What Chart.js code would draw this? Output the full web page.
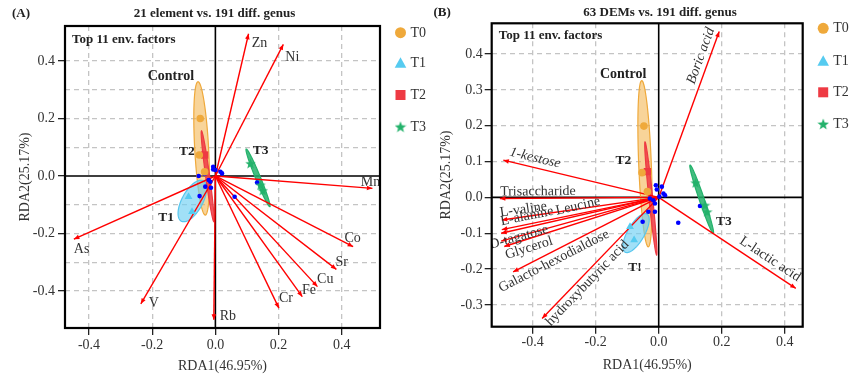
<!DOCTYPE html>
<html><head><meta charset="utf-8">
<script src="https://cdn.jsdelivr.net/npm/chart.js@4.4.1/dist/chart.umd.min.js"></script>
<style>
html,body{margin:0;padding:0;background:#fff;width:865px;height:379px;overflow:hidden}
#wa{position:absolute;left:0;top:0;width:432px;height:379px}
#wb{position:absolute;left:432px;top:0;width:433px;height:379px}
</style></head><body>
<div id="wa"><canvas id="ca"></canvas></div>
<div id="wb"><canvas id="cb"></canvas></div>
<script>
// ================= DATA =================
const groupNames = ['T0','T1','T2','T3'];
const axisTitleX = 'RDA1(46.95%)';
const axisTitleY = 'RDA2(25.17%)';

// Panel A: 21 element vs. 191 diff. genus
const titleA = '21 element vs. 191 diff. genus';
const elementNames = ['Zn','Ni','Mn','Co','Sr','Cu','Fe','Cr','Rb','V','As'];
const elementRDA1 = [0.105, 0.215, 0.497, 0.436, 0.383, 0.323, 0.275, 0.201, -0.005, -0.236, -0.448];
const elementRDA2 = [0.495, 0.458, -0.043, -0.246, -0.325, -0.385, -0.420, -0.460, -0.500, -0.445, -0.220];
const xTickLabelsA = ['-0.4','-0.2','0.0','0.2','0.4'];
const yTickLabelsA = ['-0.4','-0.2','0.0','0.2','0.4'];
const siteRDA1_A = [-0.053,-0.034,-0.007,-0.007,0.000,0.016,0.021,-0.021,-0.016,-0.032,-0.014,-0.050,0.132,0.061];
const siteRDA2_A = [0.000,0.007,0.032,0.023,0.021,0.015,0.009,-0.014,-0.020,-0.037,-0.041,-0.070,-0.023,-0.072];
const t0X_A = [-0.048,-0.051,-0.034], t0Y_A = [0.200,0.073,0.015];
const t1X_A = [-0.085,-0.074], t1Y_A = [-0.072,-0.124];
const t2X_A = [-0.034], t2Y_A = [0.073];
const t3X_A = [0.111,0.143,0.150], t3Y_A = [0.044,-0.031,-0.050];
// group ellipses: centre, major half-axis vector, minor half-axis vector (T0,T1,T2,T3)
const ellCX_A = [-0.0435,-0.073,-0.0245,0.135];
const ellCY_A = [0.096,-0.087,-0.001,-0.0065];
const ellAX_A = [-0.0115,0.035,-0.0195,-0.0375];
const ellAY_A = [0.232,0.070,0.158,0.1005];
const ellBX_A = [0.022,0.0286,0.0063,0.0073];
const ellBY_A = [0.001,-0.0174,0.0009,0.0033];
const groupTagsA = ['Control','T2','T3','T1'];
const groupTagX_A = [-0.141,-0.0905,0.143,-0.156];
const groupTagY_A = [0.348,0.0835,0.090,-0.146];

// Panel B: 63 DEMs vs. 191 diff. genus
const titleB = '63 DEMs vs. 191 diff. genus';
const demNames = ['Boric acid','1-kestose','Trisaccharide','L-valine','L-alanine','Leucine','D-tagatose','Glycerol','Galacto-hexodialdose','hydroxybutyric acid','L-lactic acid'];
const demRDA1 = [0.192,-0.493,-0.504,-0.498,-0.498,-0.500,-0.500,-0.490,-0.462,-0.370,0.435];
const demRDA2 = [0.463,0.104,-0.003,-0.063,-0.090,-0.100,-0.122,-0.137,-0.208,-0.338,-0.254];
const xTickLabelsB = ['-0.4','-0.2','0.0','0.2','0.4'];
const yTickLabelsB = ['-0.3','-0.2','-0.1','0.0','0.1','0.2','0.3','0.4'];
const siteRDA1_B = [-0.009,-0.006,0.010,0.015,0.020,0.002,-0.017,-0.028,-0.012,-0.033,-0.012,-0.051,0.062,0.131];
const siteRDA2_B = [0.034,0.022,0.030,0.011,0.006,0.002,-0.008,-0.003,-0.017,-0.040,-0.040,-0.068,-0.071,-0.024];
const t0X_B = [-0.047,-0.053,-0.036], t0Y_B = [0.199,0.069,0.016];
const t1X_B = [-0.078,-0.091], t1Y_B = [-0.119,-0.082];
const t2X_B = [-0.036], t2Y_B = [0.072];
const t3X_B = [0.117,0.147,0.154], t3Y_B = [0.041,-0.0215,-0.040];
const ellCX_B = [-0.0435,-0.072,-0.025,0.1365];
const ellCY_B = [0.094,-0.0997,-0.003,-0.0053];
const ellAX_B = [-0.0105,0.035,-0.0184,-0.037];
const ellAY_B = [0.232,0.053,0.158,0.0955];
const ellBX_B = [0.020,0.023,0.006,0.0073];
const ellBY_B = [0.001,-0.012,0.001,0.003];
const groupTagsB = ['Control','T2','T3','T!'];
const groupTagX_B = [-0.113,-0.112,0.207,-0.075];
const groupTagY_B = [0.344,0.104,-0.068,-0.196];

// ================= STYLE / LAYOUT =================
const FONT = "'Liberation Serif','Times New Roman','DejaVu Serif',serif";
Chart.defaults.font.family = FONT;
Chart.defaults.color = '#333';
const COL = {T0:'#EFA93B', T1:'#56CBF0', T2:'#EE3A43', T3:'#23B26B'};
const ELL_FILL = ['rgba(242,176,70,0.55)','rgba(110,208,242,0.65)','rgba(238,58,67,0.85)','rgba(35,178,107,0.85)'];
const ELL_STROKE = ['#EFA93B','#56C6EE','#EE3A43','#23B26B'];
// label offsets for panel A (pixels from arrow tip to label centre)
const labelDX_A = [10.9, 9.0, -2.0, -0.6, 5.3, 7.8, 6.6, 7.0, 14.0, 13.0, 7.7];
const labelDY_A = [9.2, 13.0, -6.5, -8.7, -7.3, -7.7, -6.7, -9.6, -3.0, -1.0, 9.7];
// label placement for panel B (fraction along arrow, perpendicular px offset)
const labelF_B = [0.835, 0.81, 0.76, 0.856, 0.829, 0.499, 0.889, 0.858, 0.748, 0.662, 0.771];
const labelOff_B = [8.9, 9.4, 6.6, 7.2, 8.0, 9.4, -1, -9, -9, -8.1, 10.1];
const labelItalic_B = [true, true, false, false, false, false, false, false, false, false, false];

function makeStar(color, size){
  const c = document.createElement('canvas'); c.width = size; c.height = size;
  const g = c.getContext('2d'); g.fillStyle = color; g.beginPath();
  const cx = size/2, cy = size/2 + 0.6, R = size/2, r = R*0.42;
  for (let i=0;i<10;i++){ const a=-Math.PI/2+i*Math.PI/5; const rr=i%2?r:R; g.lineTo(cx+rr*Math.cos(a), cy+rr*Math.sin(a)); }
  g.closePath(); g.fill(); return c;
}
const starPt = makeStar(COL.T3, 11);
const starLeg = makeStar(COL.T3, 12);

const fmt = v => (Math.abs(v) < 1e-9 ? 0 : v).toFixed(1);
const zip = (xs, ys) => xs.map((x,i)=>({x, y: ys[i]}));

function buildPanel(canvasId, P){
  const datasets = [];
  P.ax.forEach((x,i)=>{
    datasets.push({data:[{x:0,y:0},{x, y:P.ay[i]}], showLine:true, borderColor:'#ff0000', borderWidth:1.4, pointRadius:0, order:5});
  });
  datasets.push({data: zip(P.sx,P.sy), pointRadius:2.3, pointBackgroundColor:'#0000ff', pointBorderWidth:0, order:3});
  datasets.push({data: zip(P.g0x,P.g0y), pointStyle:'circle', pointRadius:3.8, pointBackgroundColor:COL.T0, pointBorderWidth:0, order:2});
  datasets.push({data: zip(P.g1x,P.g1y), pointStyle:'triangle', pointRadius:4.5, pointBackgroundColor:COL.T1, pointBorderWidth:0, order:2});
  datasets.push({data: zip(P.g2x,P.g2y), pointStyle:'rect', pointRadius:5.2, pointBackgroundColor:COL.T2, pointBorderWidth:0, order:2});
  datasets.push({data: zip(P.g3x,P.g3y), pointStyle:starPt, pointRadius:5, order:2});

  const plugin = {
    id:'panelDraw'+canvasId,
    beforeDatasetsDraw(chart){
      const ctx = chart.ctx, a = chart.chartArea, sx = chart.scales.x, sy = chart.scales.y;
      ctx.save();
      ctx.beginPath(); ctx.rect(a.left,a.top,a.right-a.left,a.bottom-a.top); ctx.clip();
      // zero lines
      ctx.strokeStyle = '#000'; ctx.lineWidth = 1.6;
      const x0 = sx.getPixelForValue(0), y0 = sy.getPixelForValue(0);
      ctx.beginPath(); ctx.moveTo(x0,a.top); ctx.lineTo(x0,a.bottom); ctx.moveTo(a.left,y0); ctx.lineTo(a.right,y0); ctx.stroke();
      // group tags
      ctx.fillStyle = '#222'; ctx.textAlign='center'; ctx.textBaseline='middle';
      P.tags.forEach((t,i)=>{
        ctx.font = (t==='Control' ? 'bold 14px ' : 'bold 13.5px ') + FONT;
        ctx.fillText(t, sx.getPixelForValue(P.tagX[i]), sy.getPixelForValue(P.tagY[i]));
      });
      // ellipses
      for (let g=0; g<4; g++){
        ctx.beginPath();
        for (let k=0;k<=90;k++){
          const t = k/90*2*Math.PI;
          const X = sx.getPixelForValue(P.ecx[g] + P.eax[g]*Math.cos(t) + P.ebx[g]*Math.sin(t));
          const Y = sy.getPixelForValue(P.ecy[g] + P.eay[g]*Math.cos(t) + P.eby[g]*Math.sin(t));
          k ? ctx.lineTo(X,Y) : ctx.moveTo(X,Y);
        }
        ctx.closePath(); ctx.fillStyle = ELL_FILL[g]; ctx.fill();
        ctx.lineWidth = 1.2; ctx.strokeStyle = ELL_STROKE[g]; ctx.stroke();
      }
      ctx.restore();
    },
    afterDatasetsDraw(chart){
      const ctx = chart.ctx, a = chart.chartArea, sx = chart.scales.x, sy = chart.scales.y;
      const ox = sx.getPixelForValue(0), oy = sy.getPixelForValue(0);
      ctx.save();
      ctx.beginPath(); ctx.rect(a.left,a.top,a.right-a.left,a.bottom-a.top); ctx.clip();
      P.ax.forEach((x,i)=>{
        const tx = sx.getPixelForValue(x), ty = sy.getPixelForValue(P.ay[i]);
        const vx = tx-ox, vy = ty-oy, L = Math.hypot(vx,vy), ux = vx/L, uy = vy/L;
        // arrow head
        ctx.fillStyle = '#ff0000'; ctx.beginPath();
        ctx.moveTo(tx,ty); ctx.lineTo(tx-5.5*ux-2.3*uy, ty-5.5*uy+2.3*ux); ctx.lineTo(tx-5.5*ux+2.3*uy, ty-5.5*uy-2.3*ux); ctx.closePath(); ctx.fill();
        // label
        ctx.fillStyle = '#333'; ctx.textAlign='center'; ctx.textBaseline='middle';
        if (P.mode==='A'){
          ctx.font = '14px ' + FONT;
          ctx.fillText(P.names[i], tx + P.ldx[i], ty + P.ldy[i]);
        } else {
          let dx = ux, dy = uy; if (vx < 0){ dx=-ux; dy=-uy; }
          const th = Math.atan2(dy,dx); const nx = dy, ny = -dx;
          const cx = ox + P.lf[i]*vx + P.loff[i]*nx, cy = oy + P.lf[i]*vy + P.loff[i]*ny;
          ctx.save(); ctx.translate(cx,cy); ctx.rotate(th);
          ctx.font = (P.lit[i] ? 'italic ' : '') + '14px ' + FONT;
          ctx.fillText(P.names[i], 0, 0); ctx.restore();
        }
      });
      ctx.restore();
    },
    afterDraw(chart){
      const ctx = chart.ctx, a = chart.chartArea;
      ctx.save();
      ctx.strokeStyle = '#000'; ctx.lineWidth = 2.2;
      ctx.strokeRect(a.left, a.top, a.right-a.left, a.bottom-a.top);
      // titles
      ctx.fillStyle = '#222'; ctx.textBaseline='middle';
      ctx.font = 'bold 13px ' + FONT;
      ctx.textAlign='center'; ctx.fillText(P.title, P.titleX, P.titleY);
      ctx.textAlign='left'; ctx.fillText(P.letter, P.letterX, P.titleY);
      ctx.fillText('Top 11 env. factors', a.left+7, a.top+P.topNoteDY);
      // legend
      const mx = a.right + 20.5;
      const ys = [a.top+P.legDY[0], a.top+P.legDY[1], a.top+P.legDY[2], a.top+P.legDY[3]];
      ctx.fillStyle = COL.T0; ctx.beginPath(); ctx.arc(mx, ys[0], 5.5, 0, 2*Math.PI); ctx.fill();
      ctx.fillStyle = COL.T1; ctx.beginPath(); ctx.moveTo(mx, ys[1]-5.8); ctx.lineTo(mx+5.8, ys[1]+4.8); ctx.lineTo(mx-5.8, ys[1]+4.8); ctx.closePath(); ctx.fill();
      ctx.fillStyle = COL.T2; ctx.fillRect(mx-5, ys[2]-5, 10, 10);
      ctx.drawImage(starLeg, mx-6, ys[3]-6);
      ctx.fillStyle = '#333'; ctx.font = '14px ' + FONT; ctx.textAlign='left';
      groupNames.forEach((g,i)=>ctx.fillText(g, mx+10, ys[i]+0.5));
      ctx.restore();
    }
  };

  const tickFn = list => v => { const s = fmt(v); return list.includes(s) ? s : ''; };
  const gridColor = ctx => (!ctx.tick || Math.abs(ctx.tick.value) < 1e-9 || !P.gridOk(ctx.tick.value)) ? 'rgba(0,0,0,0)' : '#c4c4c4';

  return new Chart(document.getElementById(canvasId), {
    type:'scatter',
    data:{datasets},
    plugins:[plugin],
    options:{
      responsive:true, maintainAspectRatio:false, animation:false, devicePixelRatio:1,
      layout:{padding:P.pad},
      plugins:{legend:{display:false}, tooltip:{enabled:false}, title:{display:false}},
      events:[],
      scales:{
        x:{type:'linear', min:P.xMin, max:P.xMax,
           ticks:{stepSize:0.2, includeBounds:false, autoSkip:false, maxRotation:0, padding:P.xTickPad, font:{size:14}, color:'#333', callback:tickFn(P.xLabels)},
           grid:{color:gridColor, lineWidth:1.3, tickLength:7, tickWidth:1.3,
                 tickColor:ctx => (ctx.tick && P.xLabels.includes(fmt(ctx.tick.value))) ? '#222' : 'rgba(0,0,0,0)'},
           border:{display:false, dash:[5,4]},
           title:{display:true, text:axisTitleX, font:{size:14}, color:'#333', padding:{top:0,bottom:P.xTitlePad}},
           afterFit:s=>{s.height = P.xH;}},
        y:{type:'linear', min:P.yMin, max:P.yMax,
           ticks:{stepSize:0.1, includeBounds:false, autoSkip:false, padding:P.yTickPad, font:{size:14}, color:'#333', callback:tickFn(P.yLabels)},
           grid:{color:gridColor, lineWidth:1.3, tickLength:7, tickWidth:1.3,
                 tickColor:ctx => (ctx.tick && P.yLabels.includes(fmt(ctx.tick.value))) ? '#222' : 'rgba(0,0,0,0)'},
           border:{display:false, dash:[5,4]},
           title:{display:true, text:axisTitleY, font:{size:14}, color:'#333', padding:{top:P.yTitlePad,bottom:0}},
           afterFit:s=>{s.width = P.yW;}}
      }
    }
  });
}

buildPanel('ca', {
  mode:'A', names:elementNames, ax:elementRDA1, ay:elementRDA2,
  sx:siteRDA1_A, sy:siteRDA2_A,
  g0x:t0X_A, g0y:t0Y_A, g1x:t1X_A, g1y:t1Y_A, g2x:t2X_A, g2y:t2Y_A, g3x:t3X_A, g3y:t3Y_A,
  ecx:ellCX_A, ecy:ellCY_A, eax:ellAX_A, eay:ellAY_A, ebx:ellBX_A, eby:ellBY_A,
  tags:groupTagsA, tagX:groupTagX_A, tagY:groupTagY_A,
  ldx:labelDX_A, ldy:labelDY_A,
  xMin:-0.476, xMax:0.521, yMin:-0.529, yMax:0.522,
  xLabels:xTickLabelsA, yLabels:yTickLabelsA,
  gridOk:v=>Math.abs(v)<0.45,
  pad:{left:0, top:26, right:52, bottom:0}, xH:51, yW:65,
  xTickPad:2, yTickPad:3, xTitlePad:4.6, yTitlePad:17,
  title:titleA, titleX:214.5, titleY:14, letter:'(A)', letterX:12, topNoteDY:13.5,
  legDY:[6.7, 37, 69, 100.7]
});

buildPanel('cb', {
  mode:'B', names:demNames, ax:demRDA1, ay:demRDA2, lf:labelF_B, loff:labelOff_B, lit:labelItalic_B,
  sx:siteRDA1_B, sy:siteRDA2_B,
  g0x:t0X_B, g0y:t0Y_B, g1x:t1X_B, g1y:t1Y_B, g2x:t2X_B, g2y:t2Y_B, g3x:t3X_B, g3y:t3Y_B,
  ecx:ellCX_B, ecy:ellCY_B, eax:ellAX_B, eay:ellAY_B, ebx:ellBX_B, eby:ellBY_B,
  tags:groupTagsB, tagX:groupTagX_B, tagY:groupTagY_B,
  xMin:-0.53, xMax:0.457, yMin:-0.361, yMax:0.486,
  xLabels:xTickLabelsB, yLabels:yTickLabelsB,
  gridOk:v=>true,
  pad:{left:0, top:23.3, right:62.3, bottom:0}, xH:52.3, yW:59.7,
  xTickPad:0.5, yTickPad:2, xTitlePad:5.6, yTitlePad:5.6,
  title:titleB, titleX:228, titleY:12.5, letter:'(B)', letterX:1.5, topNoteDY:12.7,
  legDY:[5, 37.7, 69, 100.7]
});
</script>
</body></html>
